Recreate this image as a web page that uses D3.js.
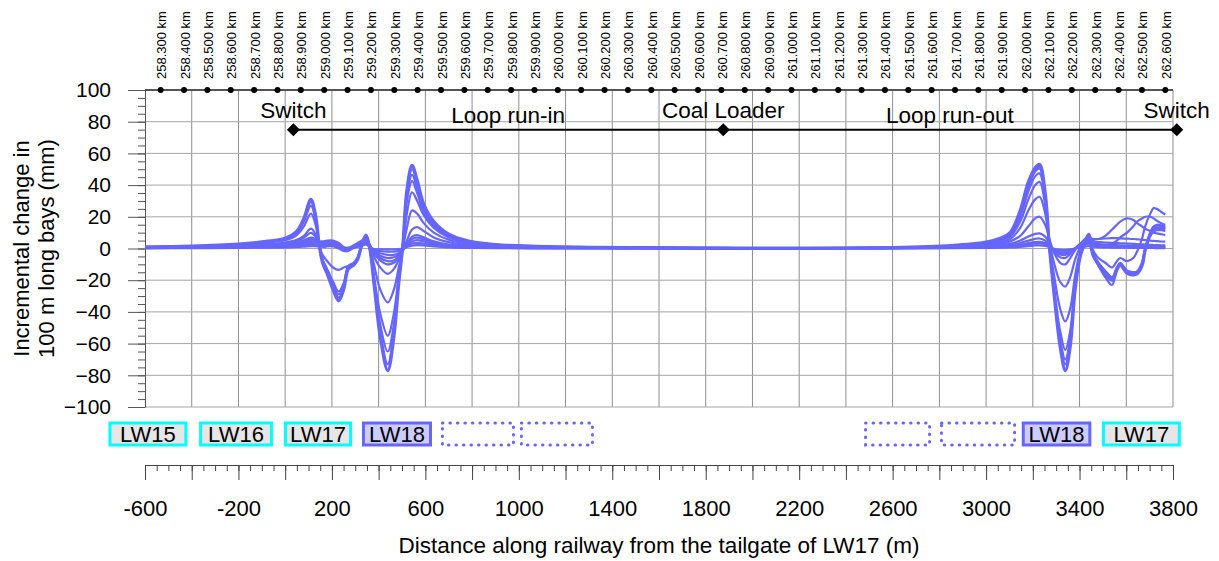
<!DOCTYPE html>
<html><head><meta charset="utf-8">
<script src="https://cdn.jsdelivr.net/npm/d3@7"></script>
<style>
body{margin:0;background:#fff}
svg{display:block}
text{font-family:"Liberation Sans",Arial,sans-serif;fill:#000}
</style>
</head><body><svg id="chart" width="1219" height="561"></svg>
<script>
// ---------- DATA ----------
const distances = [
  -600,-400,-200,-100,0,50,80,110,130,146,
  160,180,205,229,250,270,293,310,329,346,
  362,380,407,439,465,486,503,521,543,565,
  593,636,700,790,900,1050,1300,1700,2200,2600,
  2850,3000,3060,3103,3146,3181,3210,3229,3253,3271,
  3289,3317,3339,3360,3381,3403,3424,3439,3457,3481,
  3510,3539,3560,3574,3603,3630,3646,3667,3681,3703,
  3717,3731,3750,3767];

const increment01 = [
  1.0,1.5,2.8,4.2,6.5,11,19,31,21,2,
  -9,-16,-26,-33,-26,-13,-10.5,-7,3,8.5,
  0,-22,-56,-77,-56,-22,1,37,52.5,43,
  28,17,9,4.5,2.5,1.5,0.8,0.4,0.3,0.6,
  1.8,4,6.5,10,24,42,51,53,35,1,
  -26,-62,-77,-62,-26,-5,4,9,-4,-10,
  -16,-20,-13,-10,-15,-16,-16,-11,-1,9,
  12,13,12.5,12];
const increment02 = [
  0.9,1.4,2.6,4,6.2,10.5,18,29.5,20,2,
  -8,-15,-24,-31,-25,-12,-10,-6.5,3,8,
  0,-21,-53,-73,-53,-21,1,35,50,41,
  27,16,8.5,4.3,2.4,1.4,0.8,0.4,0.3,0.6,
  1.7,3.8,6.2,9.5,23,40,49.5,51.5,34,1,
  -25,-59,-73,-59,-25,-4.5,4,8.5,-3,-9,
  -15,-19,-12,-9,-14,-15,-15,-10,0,10,
  13.5,14.5,14,13];
const increment03 = [
  0.9,1.3,2.4,3.8,5.8,10,17,27,18,2,
  -7,-14,-23,-29,-23,-12,-9.5,-6,3,8,
  0,-19,-48,-65,-48,-19,1,33,46.5,38,
  25,15,8,4,2.2,1.3,0.7,0.4,0.3,0.5,
  1.6,3.6,6,9,22,39,48.5,50.5,33,1,
  -24,-57,-70,-57,-24,-4,4,8.5,-4,-11,
  -18,-23,-14,-11,-16,-17,-16,-10,0,10,
  14,15,14.5,14];
const increment04 = [
  0.8,1.2,2.2,3.4,5.2,8.5,14,22,15,1,
  -7,-13,-21,-27,-22,-11,-9,-5.5,3,7.5,
  0,-17,-41,-55,-41,-17,1,30,42.5,35,
  23,14,7.5,3.8,2.1,1.2,0.7,0.4,0.3,0.5,
  1.5,3.3,5.5,8.5,20,36,45.5,47.4,30,1,
  -22,-52,-64,-52,-22,-3.5,4.5,8.5,-3,-9,
  -14,-18,-12,-9.5,-14,-15,-14.5,-9,0,8,
  10.5,11.5,11.5,11];
const increment05 = [
  0.7,1.0,1.8,2.6,3.8,5.5,8,12.5,9,1,
  -4,-8,-12,-13.5,-12,-11,-10,-6,2,7,
  1,-10,-26,-34,-26,-12,0,22,35.5,30,
  21,13,7,3.5,2,1.1,0.6,0.3,0.3,0.5,
  1.3,3,5,7.5,17,31,40,42,27,2,
  -15,-38,-46,-38,-17,-2,4,8,-1,-6,
  -9,-12,-8,-6,-8,-6,-2,6,14,22,
  25.5,25,23,21.5];
const increment06 = [
  0.6,0.9,1.6,2.3,3.3,4.8,6.8,9.9,7.5,3,
  1,1.5,1.5,0,-1.5,-1.5,0.5,2.5,5,6.5,
  2,-5,-12,-16,-13,-7,0,13,24,22,
  16,10,5.5,2.8,1.6,0.9,0.5,0.3,0.3,0.4,
  1.1,2.5,4,6,13,24,31,32.6,22,5,
  -8,-21,-24,-18,-7,1,6,8,5,3,
  2,3,5,7,10,14,17,19,20,20,
  19,17.5,16,15];
const increment07 = [
  0.5,0.8,1.4,2,2.8,4,5.2,6.9,6,4.5,
  4.5,5,5,3.5,1,0.5,2,3.5,5,6,
  2.5,-3,-7.5,-10,-9,-5.5,-1.5,5,12,13.5,
  11,7,4,2,1.2,0.7,0.4,0.2,0.2,0.3,
  0.9,2,3,4.5,8,14,19,20,15,6,
  -2,-9,-10,-6,-1,3,6,7,6,6,
  8,12,15,17,19,18,16,14,12.5,11,
  10,9.5,9,8.5];
const increment08 = [
  0.4,0.7,1.2,1.7,2.4,3.4,4.4,5.7,5.2,4.2,
  4,4.5,4.5,3,0.5,0,1.5,3,4.5,5.5,
  2,-2.5,-6,-8,-7.5,-5,-1.5,3,7.5,8.4,
  7,4.5,2.5,1.3,0.8,0.5,0.3,0.2,0.2,0.3,
  0.7,1.5,2.2,3,5,7.5,9.2,9.5,7.5,3.5,
  -1.5,-5.5,-6,-3.5,0,3,5,6,6,6,
  6.3,6.5,6.5,6.4,6.2,6,5.8,5.5,5.3,5,
  4.8,4.6,4.4,4.3];
const increment09 = [
  0.3,0.6,1,1.5,2.1,2.9,3.6,4.6,4.3,3.7,
  3.5,4,4,2.5,0.3,-0.3,1,2.5,4,5,
  1.5,-2,-4.5,-6,-5.5,-4,-1,2.5,6,6.9,
  5.8,3.8,2.1,1.1,0.7,0.4,0.3,0.2,0.2,0.3,
  0.6,1.2,1.7,2.3,3.5,5,6.1,6.3,5,2.5,
  -1,-3.8,-4,-2.5,0,2.5,4,5,4.5,4,
  3.8,3.6,3.4,3.3,3.1,2.9,2.8,2.6,2.5,2.3,
  2.2,2.1,2,2];
const increment10 = [
  0.3,0.5,0.8,1.2,1.7,2.3,2.9,3.6,3.4,3,
  3,3.4,3.5,2,0.2,-0.3,0.8,2,3.5,4.5,
  1.2,-1.5,-3,-4,-4,-3,-0.8,2,4.5,5.3,
  4.5,3,1.7,0.9,0.5,0.3,0.2,0.1,0.1,0.2,
  0.5,0.9,1.2,1.6,2.4,3.4,4.1,4.2,3.4,1.8,
  -0.8,-2.8,-3,-1.8,0,2,3.2,4,3.3,2.8,
  2.5,2.3,2.1,2,1.8,1.7,1.6,1.5,1.4,1.3,
  1.3,1.2,1.2,1.2];
const increment11 = [
  0.2,0.4,0.6,0.9,1.2,1.6,2,2.5,2.4,2.1,
  2.1,2.4,2.5,1.5,0,-0.2,0.6,1.5,2.6,3.5,
  1,-0.8,-1.6,-2,-2,-1.5,-0.3,1.5,3.2,3.6,
  3.1,2.1,1.2,0.6,0.4,0.2,0.1,0.1,0.1,0.1,
  0.3,0.6,0.9,1.2,1.8,2.6,3.1,3.2,2.6,1.4,
  -0.5,-1.8,-2,-1.2,0,1.5,2.4,3,2.4,1.9,
  1.6,1.4,1.3,1.2,1.1,1,0.9,0.9,0.8,0.8,
  0.8,0.7,0.7,0.7];
const increment12 = [
  0.1,0.2,0.4,0.5,0.7,1,1.2,1.5,1.5,1.3,
  1.3,1.5,1.5,1,0,-0.1,0.4,1,1.8,2.5,
  0.8,-0.3,-0.5,-0.6,-0.6,-0.4,0,0.9,1.8,2.1,
  1.9,1.3,0.7,0.4,0.2,0.1,0.1,0,0,0.1,
  0.2,0.4,0.5,0.7,1,1.5,1.9,2,1.6,0.9,
  -0.2,-0.9,-1,-0.6,0,0.8,1.2,1.5,1.1,0.9,
  0.7,0.6,0.5,0.5,0.5,0.4,0.4,0.4,0.4,0.4,
  0.3,0.3,0.3,0.3];

const seriesList = [increment12,increment11,increment10,increment09,increment08,increment07,
                    increment06,increment05,increment04,increment03,increment02,increment01];

const yTicks = [-100,-80,-60,-40,-20,0,20,40,60,80,100];
const xMajorTicks = [-600,-400,-200,0,200,400,600,800,1000,1200,1400,1600,1800,2000,2200,2400,2600,2800,3000,3200,3400,3600,3800];
const xLabelTicks = [-600,-200,200,600,1000,1400,1800,2200,2600,3000,3400,3800];
const kmTicks = [258.3,258.4,258.5,258.6,258.7,258.8,258.9,259.0,259.1,259.2,259.3,259.4,259.5,259.6,259.7,259.8,259.9,
  260.0,260.1,260.2,260.3,260.4,260.5,260.6,260.7,260.8,260.9,261.0,261.1,261.2,261.3,261.4,261.5,261.6,261.7,261.8,261.9,
  262.0,262.1,262.2,262.3,262.4,262.5,262.6];
const kmAtZero = 258.833;

const panels = [
  {label:"LW15", from:-750, to:-425, kind:"mined"},
  {label:"LW16", from:-362, to:-59, kind:"mined"},
  {label:"LW17", from:1, to:280, kind:"mined"},
  {label:"LW18", from:335, to:622, kind:"active"},
  {label:"", from:673, to:977, kind:"future"},
  {label:"", from:1011, to:1315, kind:"future"},
  {label:"", from:2484, to:2758, kind:"future"},
  {label:"", from:2809, to:3122, kind:"future"},
  {label:"LW18", from:3159, to:3444, kind:"active"},
  {label:"LW17", from:3502, to:3827, kind:"mined"}
];
const markers = [{label:"Switch", x:35},{label:"Coal Loader", x:1875},{label:"Switch", x:3816}];
const sectionLabels = [{label:"Loop run-in", x:954},{label:"Loop run-out", x:2845}];
const markerLevel = 75;

// ---------- LAYOUT ----------
const L = 145, R = 1173, T = 90, B = 407;
const FS = "22px";
const svg = d3.select("#chart");
const x = d3.scaleLinear().domain([-600,3800]).range([L,R]);
const y = d3.scaleLinear().domain([-100,100]).range([B,T]);
const lineColor = "#6666ff";

// grid
svg.append("g").selectAll("line").data(xMajorTicks.filter(d=>d>-600)).join("line")
  .attr("x1",d=>x(d)).attr("x2",d=>x(d)).attr("y1",T).attr("y2",B)
  .attr("stroke","#8f8f8f").attr("stroke-width",1);
svg.append("g").selectAll("line").data(yTicks.filter(d=>d<100)).join("line")
  .attr("x1",L).attr("x2",R).attr("y1",d=>y(d)).attr("y2",d=>y(d))
  .attr("stroke","#a6a6a6").attr("stroke-width",1);

// left axis
const yAxis = d3.axisLeft(y).tickValues(yTicks).tickSize(17).tickPadding(17).tickSizeOuter(0);
const gy = svg.append("g").attr("transform",`translate(${L},0)`).call(yAxis);
gy.select(".domain").attr("stroke","#555");
gy.selectAll(".tick line").attr("stroke","#555");
gy.selectAll("text").style("font-size","21px").attr("fill","#000");
const yMinor = d3.axisLeft(y).tickValues(d3.range(-100,101,5)).tickSize(7).tickFormat("").tickSizeOuter(0);
const gym = svg.append("g").attr("transform",`translate(${L},0)`).call(yMinor);
gym.select(".domain").remove();
gym.selectAll(".tick line").attr("stroke","#555");

// y label
svg.append("text").attr("transform",`translate(29,${(T+B)/2}) rotate(-90)`)
  .attr("text-anchor","middle").style("font-size",FS).text("Incremental change in");
svg.append("text").attr("transform",`translate(54,${(T+B)/2}) rotate(-90)`)
  .attr("text-anchor","middle").style("font-size",FS).text("100 m long bays (mm)");

// curves
const lineGen = d3.line().x((d,i)=>x(distances[i])).y(d=>y(d)).curve(d3.curveCatmullRom.alpha(0.5));
svg.append("g").selectAll("path").data(seriesList).join("path")
  .attr("d",d=>lineGen(d)).attr("fill","none").attr("stroke",lineColor)
  .attr("stroke-width",(d,i)=> i===seriesList.length-1 ? 3.2 : 2.2)
  .attr("stroke-linejoin","round");

// top chainage line
svg.append("line").attr("x1",L).attr("x2",R).attr("y1",T).attr("y2",T).attr("stroke","#555").attr("stroke-width",2);
const kmX = km => x((km - kmAtZero)*1000);
svg.append("g").selectAll("circle").data(kmTicks).join("circle")
  .attr("cx",d=>kmX(d)).attr("cy",T).attr("r",3).attr("fill","#000");
svg.append("g").selectAll("text").data(kmTicks).join("text")
  .attr("transform",d=>`translate(${kmX(d)+5.5},79) rotate(-90)`)
  .attr("text-anchor","start").style("font-size","13px")
  .text(d=>d.toFixed(3)+" km");

// marker line & diamonds
const my = y(markerLevel);
svg.append("line").attr("x1",x(markers[0].x)).attr("x2",x(markers[markers.length-1].x))
  .attr("y1",my).attr("y2",my).attr("stroke","#000").attr("stroke-width",2);
svg.append("g").selectAll("path").data(markers).join("path")
  .attr("transform",d=>`translate(${x(d.x)},${my})`)
  .attr("d","M0,-6.5L6.5,0L0,6.5L-6.5,0Z").attr("fill","#000");
svg.append("g").selectAll("text").data(markers).join("text")
  .attr("x",d=>x(d.x)).attr("y",118).attr("text-anchor","middle").style("font-size","22.5px").text(d=>d.label);
svg.append("g").selectAll("text").data(sectionLabels).join("text")
  .attr("x",d=>x(d.x)).attr("y",123).attr("text-anchor","middle").style("font-size","22.5px").text(d=>d.label);

// panels
const pg = svg.append("g").selectAll("g").data(panels).join("g");
pg.append("rect")
  .attr("x",d=>x(d.from)).attr("width",d=>x(d.to)-x(d.from)).attr("y",423).attr("height",22)
  .attr("fill",d=>d.kind==="mined"?"#e6e6e6":d.kind==="active"?"#ccccff":"none")
  .attr("stroke",d=>d.kind==="mined"?"#00ffff":lineColor)
  .attr("stroke-width",3)
  .attr("stroke-dasharray",d=>d.kind==="future"?"0.5,7":null)
  .attr("stroke-linecap",d=>d.kind==="future"?"round":null);
pg.append("text").attr("x",d=>(x(d.from)+x(d.to))/2).attr("y",442)
  .attr("text-anchor","middle").style("font-size",FS).text(d=>d.label);

// bottom axis
const AY = 465;
const xAxis = d3.axisBottom(x).tickValues(xMajorTicks).tickSize(15).tickSizeOuter(0)
  .tickFormat(d=> xLabelTicks.includes(d) ? String(d) : "");
const gx = svg.append("g").attr("transform",`translate(0,${AY})`).call(xAxis);
gx.select(".domain").attr("stroke","#444");
gx.selectAll(".tick line").attr("stroke","#444");
gx.selectAll("text").attr("y",35).style("font-size",FS).attr("fill","#000");
const xMinor = d3.axisBottom(x).tickValues(d3.range(-600,3801,50)).tickSize(6).tickFormat("").tickSizeOuter(0);
const gxm = svg.append("g").attr("transform",`translate(0,${AY})`).call(xMinor);
gxm.select(".domain").remove();
gxm.selectAll(".tick line").attr("stroke","#444");
svg.append("text").attr("x",(L+R)/2).attr("y",553).attr("text-anchor","middle")
  .style("font-size","22.5px").text("Distance along railway from the tailgate of LW17 (m)");
</script>
</body></html>
